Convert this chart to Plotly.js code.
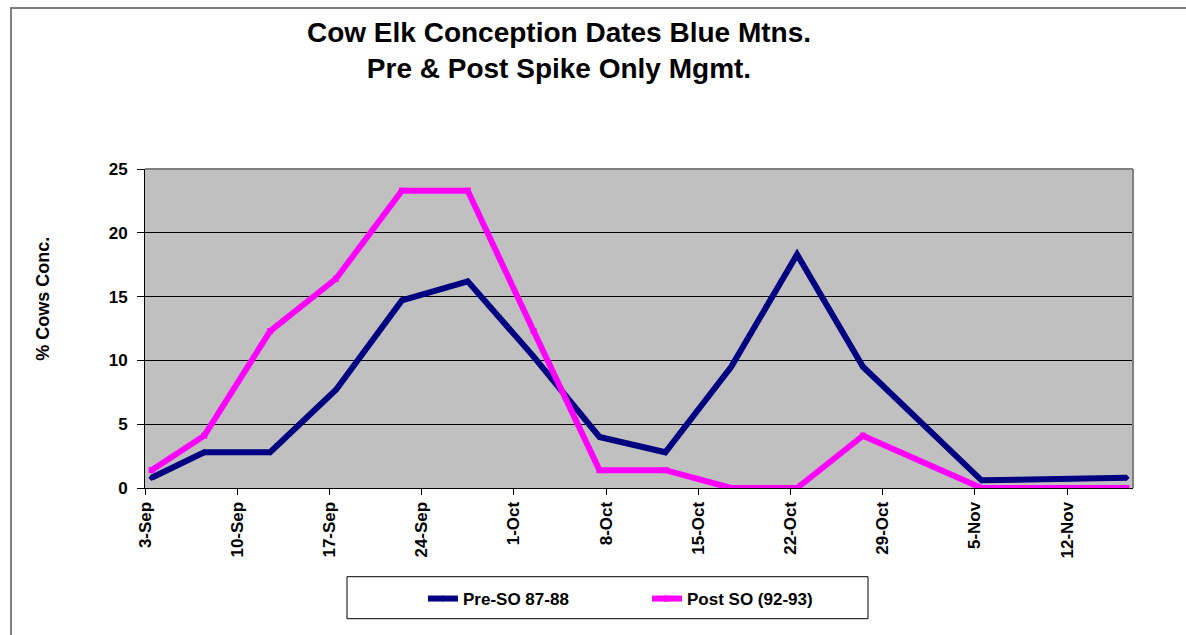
<!DOCTYPE html>
<html>
<head>
<meta charset="utf-8">
<script src="https://cdn.plot.ly/plotly-3.0.1.min.js"></script>
<style>
  html, body { margin: 0; padding: 0; background: #ffffff; overflow: hidden; }
  #frame { position: absolute; left: 10px; top: 7px; width: 1300px; height: 800px; border-left: 2px solid #808080; border-top: 2px solid #808080; }
  #chart { position: absolute; left: 0; top: 0; width: 1186px; height: 635px; }
</style>
</head>
<body>
<div id="frame"></div>
<div id="chart"></div>
<script>
// Sample dates (year arbitrary, only day-month shown)
var dates = ['1993-09-03','1993-09-07','1993-09-12','1993-09-17','1993-09-22','1993-09-27',
             '1993-10-02','1993-10-07','1993-10-12','1993-10-17','1993-10-22','1993-10-27',
             '1993-11-05','1993-11-16'];
// % cows conceived, Pre spike-only management (87-88)
var preSO = [0.8, 2.8, 2.8, 7.7, 14.7, 16.2, 10.3, 4.0, 2.8, 9.5, 18.3, 9.5, 0.6, 0.8];
// % cows conceived, Post spike-only management (92-93)
var postSO = [1.4, 4.1, 12.3, 16.4, 23.3, 23.3, 12.3, 1.4, 1.4, 0, 0, 4.1, 0, 0];
var seriesNames = ['Pre-SO 87-88', 'Post SO (92-93)'];
var yTicks = [0, 5, 10, 15, 20, 25];

var FONT = 'Arial, "Liberation Sans", sans-serif';
var DAY = 86400000;

var traces = [
  {
    x: dates, y: preSO, name: seriesNames[0], type: 'scatter', mode: 'lines+markers',
    xperiod: DAY, xperiodalignment: 'middle',
    line: { color: '#000080', width: 6 },
    marker: { symbol: 'diamond', size: 5, color: '#000080' }
  },
  {
    x: dates, y: postSO, name: seriesNames[1], type: 'scatter', mode: 'lines+markers',
    xperiod: DAY, xperiodalignment: 'middle',
    line: { color: '#FF00FF', width: 6 },
    marker: { symbol: 'square', size: 6, color: '#FF00FF' }
  }
];

var layout = {
  width: 1186, height: 635,
  margin: { l: 145, r: 53, t: 169, b: 147, pad: 0 },
  paper_bgcolor: 'rgba(0,0,0,0)',
  plot_bgcolor: '#c0c0c0',
  showlegend: true,
  title: {
    text: 'Cow Elk Conception Dates Blue Mtns.<br>Pre & Post Spike Only Mgmt.',
    font: { family: FONT, size: 28, color: '#000000', weight: 'bold' },
    x: 559 / 1186, xanchor: 'center', xref: 'container',
    y: 1 - 42 / 635, yanchor: 'top', yref: 'container'
  },
  xaxis: {
    type: 'date',
    range: ['1993-09-03', '1993-11-17'],
    tick0: '1993-09-03', dtick: 7 * DAY,
    tickformat: '%-d-%b',
    tickangle: -90,
    ticks: 'outside', ticklen: 6, tickwidth: 1, tickcolor: '#000000',
    tickfont: { family: FONT, size: 17, color: '#000000', weight: 'bold' },
    showgrid: false, zeroline: false,
    showline: true, linecolor: '#000000', linewidth: 1,
    fixedrange: true
  },
  yaxis: {
    range: [0, 25],
    tickvals: yTicks,
    ticks: 'outside', ticklen: 7, tickwidth: 1, tickcolor: '#000000',
    ticklabelstandoff: 6,
    tickfont: { family: FONT, size: 17, color: '#000000', weight: 'bold' },
    showgrid: true, gridcolor: '#000000', gridwidth: 1,
    zeroline: false,
    showline: true, linecolor: '#000000', linewidth: 1,
    fixedrange: true
  },
  legend: {
    orientation: 'h',
    x: (423 - 145) / 988, xanchor: 'left',
    y: (488 - 581) / 319, yanchor: 'top',
    bgcolor: 'rgba(0,0,0,0)', borderwidth: 0,
    entrywidth: 179, entrywidthmode: 'pixels',
    font: { family: FONT, size: 17, color: '#000000', weight: 'bold' },
    itemclick: false, itemdoubleclick: false
  },
  shapes: [
    // plot area frame (top & right in gray)
    { type: 'line', xref: 'paper', yref: 'paper', x0: 0, x1: 1, y0: 1, y1: 1, line: { color: '#808080', width: 2 } },
    { type: 'line', xref: 'paper', yref: 'paper', x0: 1, x1: 1, y0: 0, y1: 1, line: { color: '#808080', width: 2 } },
    // legend box
    { type: 'rect', xref: 'paper', yref: 'paper', layer: 'below',
      x0: (347 - 145) / 988, x1: (868 - 145) / 988,
      y0: (488.3 - 577) / 319, y1: (488.3 - 619) / 319,
      fillcolor: '#ffffff', line: { color: '#000000', width: 1 } }
  ],
  annotations: [
    { text: '% Cows Conc.', textangle: -90, xref: 'paper', yref: 'paper',
      x: (43 - 145) / 988, y: (488.3 - 299) / 319, xanchor: 'center', yanchor: 'middle',
      showarrow: false,
      font: { family: FONT, size: 18, color: '#000000', weight: 'bold' } }
  ]
};

Plotly.newPlot('chart', traces, layout, { displayModeBar: false, staticPlot: true });
</script>
</body>
</html>
